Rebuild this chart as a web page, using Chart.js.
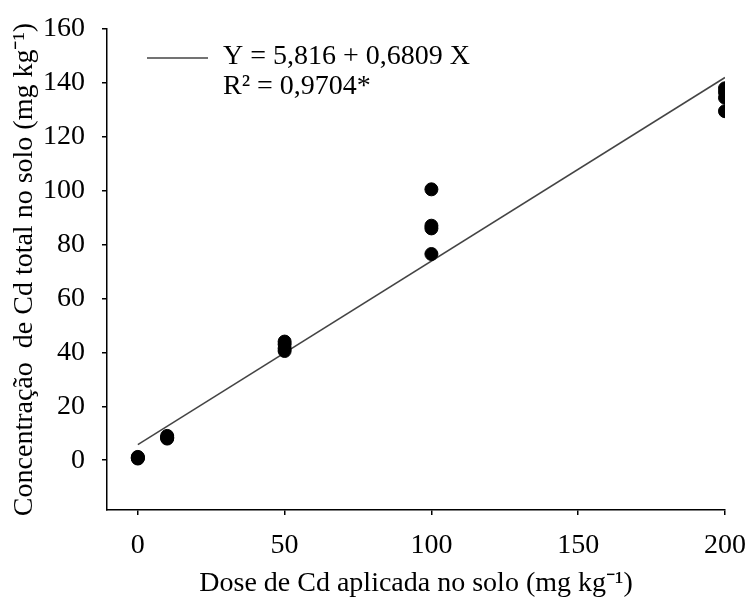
<!DOCTYPE html>
<html>
<head>
<meta charset="utf-8">
<script src="https://cdn.jsdelivr.net/npm/chart.js@4/dist/chart.umd.min.js"></script>
<style>
  html, body { margin: 0; padding: 0; background: #fff; }
  #wrap { width: 746px; height: 601px; position: relative; }
</style>
</head>
<body>
<div id="wrap"><canvas id="grafico"></canvas></div>
<script>
const doses = [0, 0, 0, 0, 10, 10, 10, 10, 50, 50, 50, 50, 100, 100, 100, 100, 200, 200, 200, 200];
const concentracao = [0.6, 0.8, 1.0, 1.2, 8.0, 8.3, 8.5, 9.0, 40.5, 41.5, 43.0, 44.0, 76.5, 86.0, 87.0, 100.5, 129.5, 134.5, 136.5, 138.0];

// extremos da reta ajustada
const retaX = [0, 200];
const retaY = [5.8, 142.0];

const xTicks = [0, 50, 100, 150, 200];
const yTicks = [0, 20, 40, 60, 80, 100, 120, 140, 160];

const equacao = 'Y = 5,816 + 0,6809 X';
const r2 = 'R² = 0,9704*';

const serif = "'Liberation Serif', 'Times New Roman', serif";

const legendaPlugin = {
  id: 'legenda',
  afterDraw(chart) {
    const ctx = chart.ctx;
    ctx.save();
    ctx.strokeStyle = '#444';
    ctx.lineWidth = 1.5;
    ctx.beginPath();
    ctx.moveTo(147, 58);
    ctx.lineTo(208, 58);
    ctx.stroke();
    ctx.fillStyle = '#000';
    ctx.font = '28px ' + serif;
    ctx.textBaseline = 'middle';
    ctx.textAlign = 'left';
    ctx.fillText(equacao, 223, 57);
    ctx.fillText(r2, 223, 87);
    ctx.restore();
  }
};

new Chart(document.getElementById('grafico').getContext('2d'), {
  type: 'scatter',
  data: {
    datasets: [
      {
        label: 'observado',
        data: doses.map((d, i) => ({ x: d, y: concentracao[i] })),
        backgroundColor: '#000',
        borderColor: '#000',
        pointRadius: 6.5,
        pointHoverRadius: 6.5,
      },
      {
        label: equacao,
        type: 'line',
        data: retaX.map((d, i) => ({ x: d, y: retaY[i] })),
        borderColor: '#444',
        borderWidth: 1.5,
        pointRadius: 0,
        fill: false,
      },
    ],
  },
  options: {
    responsive: true,
    maintainAspectRatio: false,
    animation: false,
    layout: { padding: { top: 29, right: 21, left: 0, bottom: 0 } },
    plugins: {
      legend: { display: false },
      tooltip: { enabled: false },
    },
    scales: {
      x: {
        type: 'linear',
        min: -10.5,
        max: 200,
        afterBuildTicks: (s) => { s.ticks = xTicks.map((v) => ({ value: v })); },
        afterFit: (s) => { s.height = 91; s.paddingLeft = 0; s.paddingRight = 0; },
        grid: { drawOnChartArea: false, drawTicks: true, tickLength: 5, color: '#000', lineWidth: 1.5 },
        border: { display: true, color: '#000', width: 1.5 },
        ticks: { color: '#000', font: { family: serif, size: 28 }, padding: 14, maxRotation: 0 },
        title: {
          display: true,
          text: 'Dose de Cd aplicada no solo (mg kg⁻¹)',
          color: '#000',
          font: { family: serif, size: 28 },
          padding: { top: 0, bottom: 1 },
        },
      },
      y: {
        type: 'linear',
        min: -18.5,
        max: 160,
        afterBuildTicks: (s) => { s.ticks = yTicks.map((v) => ({ value: v })); },
        afterFit: (s) => { s.width = 107; s.paddingTop = 0; s.paddingBottom = 0; },
        grid: { drawOnChartArea: false, drawTicks: true, tickLength: 5, color: '#000', lineWidth: 1.5 },
        border: { display: true, color: '#000', width: 1.5 },
        ticks: { color: '#000', font: { family: serif, size: 28 }, padding: 17 },
        title: {
          display: true,
          text: 'Concentração  de Cd total no solo (mg kg⁻¹)',
          color: '#000',
          font: { family: serif, size: 28 },
          padding: { top: 8, bottom: 0 },
        },
      },
    },
  },
  plugins: [legendaPlugin],
});
</script>
</body>
</html>
